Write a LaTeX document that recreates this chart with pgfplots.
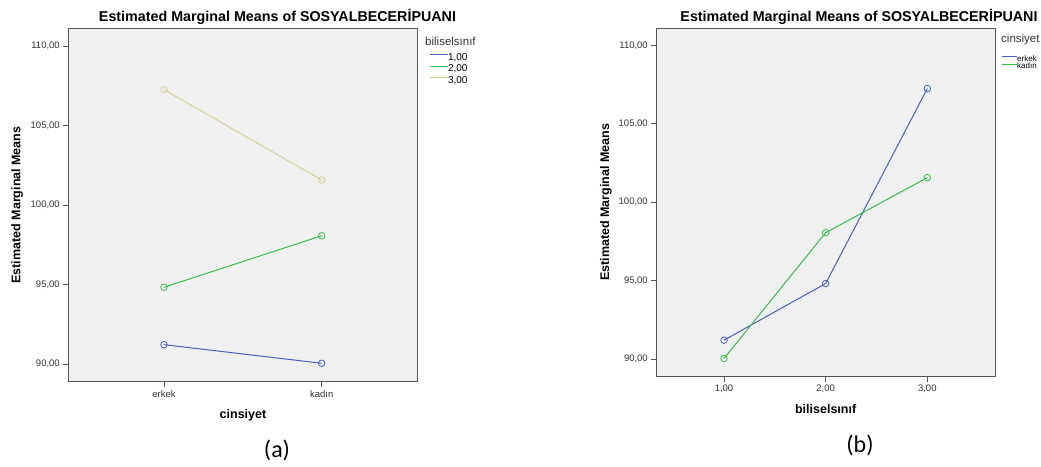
\documentclass[border=0pt]{standalone}
\usepackage{pgfplots}
\pgfplotsset{compat=1.18}
\usepackage{fontspec}
\setmainfont{Liberation Sans}
\newfontfamily\capfont{Carlito}

\definecolor{spssblue}{HTML}{4A60B8}
\definecolor{spssgreen}{HTML}{38BC4E}
\definecolor{spsstan}{HTML}{D3CE97}
\definecolor{bggray}{HTML}{F0F0F0}
\definecolor{framegray}{HTML}{555555}
\definecolor{textgray}{HTML}{333333}

\pgfplotsset{
  emm/.style={
    scale only axis,
    axis background/.style={fill=bggray},
    axis line style={draw=framegray, line width=1pt},
    tick align=outside, tick pos=left,
    major tick length=5pt,
    every tick/.style={framegray, line width=0.8pt},
    ymin=88.88, ymax=111.11,
    ytick={90,95,100,105,110},
    /pgf/number format/assume math mode=true,
    yticklabel style={/pgf/number format/fixed, /pgf/number format/fixed zerofill,
      /pgf/number format/precision=2, /pgf/number format/use comma,
      font=\fontsize{9.5}{11}\selectfont, text=textgray},
    xticklabel style={font=\fontsize{9.5}{11}\selectfont, text=textgray},
    legend cell align=left,
    legend image code/.code={\draw[#1, mark=none] (0pt,3.4pt) -- (18pt,3.4pt);},
  },
  line/.style={line width=1pt, mark=o, mark size=3.3pt, mark options={line width=0.8pt}},
}

\begin{document}
\begin{tikzpicture}
\useasboundingbox (0,0) rectangle (1041pt,-466pt);

% (a) lines per biliselsinif over cinsiyet
\begin{axis}[emm,
  at={(68.3pt,-381.7pt)}, anchor=south west,
  width=349.4pt, height=353.4pt,
  xmin=-0.607, xmax=1.609,
  xtick={0,1}, xticklabels={erkek,kadın},
  xlabel={cinsiyet}, ylabel={Estimated Marginal Means},
  every axis y label/.style={at={(axis description cs:-0.146,0.5)}, rotate=90, anchor=center,
    font=\bfseries\fontsize{12.5}{14}\selectfont},
  every axis x label/.style={at={(axis description cs:0.5,-0.094)}, anchor=center,
    font=\bfseries\fontsize{12.5}{14}\selectfont},
  legend style={at={(1.032,0.9295)}, anchor=north west, draw=none, fill=none,
    inner sep=0pt, row sep=2.5pt,
    nodes={inner sep=0pt, text height=7pt, text depth=2pt, font=\fontsize{10}{12}\selectfont},
    /tikz/every even column/.append style={column sep=1.5pt}},
]
\addplot[spssblue, line] coordinates {(0,91.21) (1,90.04)};
\addplot[spssgreen, line] coordinates {(0,94.82) (1,98.06)};
\addplot[spsstan, line] coordinates {(0,107.25) (1,101.57)};
\legend{{1,00},{2,00},{3,00}}
\end{axis}

% (b) lines per cinsiyet over biliselsinif
\begin{axis}[emm,
  at={(656.3pt,-376.7pt)}, anchor=south west,
  width=338.7pt, height=348.7pt,
  xmin=0.334, xmax=3.666,
  xtick={1,2,3},
  xticklabel style={/pgf/number format/fixed, /pgf/number format/fixed zerofill,
      /pgf/number format/precision=2, /pgf/number format/use comma},
  xlabel={biliselsınıf}, ylabel={Estimated Marginal Means},
  every axis y label/.style={at={(axis description cs:-0.1485,0.5)}, rotate=90, anchor=center,
    font=\bfseries\fontsize{12.5}{14}\selectfont},
  every axis x label/.style={at={(axis description cs:0.5,-0.093)}, anchor=center,
    font=\bfseries\fontsize{12.5}{14}\selectfont},
  legend image code/.code={\draw[#1, mark=none] (0pt,2.7pt) -- (15pt,2.7pt);},
  legend style={at={(1.0177,0.9203)}, anchor=north west, draw=none, fill=none,
    inner sep=0pt, row sep=0.4pt,
    nodes={inner sep=0pt, text height=5.5pt, text depth=1.5pt, font=\fontsize{8}{9}\selectfont},
    /tikz/every even column/.append style={column sep=1pt}},
]
\addplot[spssblue, line] coordinates {(1,91.21) (2,94.82) (3,107.25)};
\addplot[spssgreen, line] coordinates {(1,90.04) (2,98.06) (3,101.57)};
\legend{erkek,kadın}
\end{axis}

% titles, legend titles and panel captions
\node[font=\bfseries\fontsize{14.3}{16}\selectfont] at (277.5pt,-17pt) {Estimated Marginal Means of SOSYALBECERİPUANI};
\node[font=\bfseries\fontsize{14.3}{16}\selectfont] at (859pt,-17pt) {Estimated Marginal Means of SOSYALBECERİPUANI};
\node[anchor=west, inner sep=0pt, text=textgray, font=\fontsize{11.5}{13}\selectfont] at (425pt,-41.7pt) {biliselsınıf};
\node[anchor=west, inner sep=0pt, text=textgray, font=\fontsize{11.5}{13}\selectfont] at (1001pt,-40pt) {cinsiyet};
\node[font=\capfont\fontsize{24}{28}\selectfont] at (277pt,-450pt) {(a)};
\node[font=\capfont\fontsize{24}{28}\selectfont] at (860pt,-445pt) {(b)};
\end{tikzpicture}
\end{document}
